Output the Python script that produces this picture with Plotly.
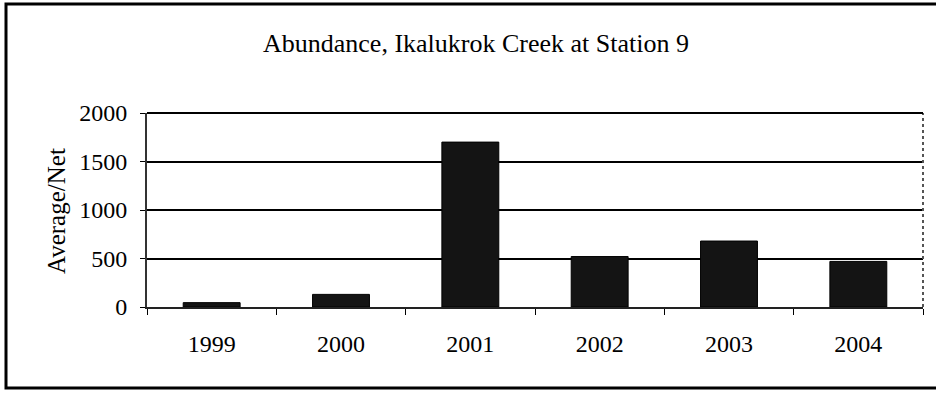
import plotly.graph_objects as go

years = ["1999", "2000", "2001", "2002", "2003", "2004"]
avg_per_net = [45, 130, 1700, 520, 680, 470]
y_ticks = [0, 500, 1000, 1500, 2000]

FONT = "Liberation Serif, Times New Roman, serif"
W, H = 936, 396
L, R, T, B = 147, 13, 113, 89
pw, ph = W - L - R, H - T - B

def px_x(px):
    return (px - L) / pw

def px_y(py):
    return (H - B - py) / ph

fig = go.Figure()
fig.add_trace(go.Bar(
    x=years, y=avg_per_net,
    marker=dict(color="#141414", line=dict(color="#000000", width=1)),
    width=0.44,
))

fig.update_layout(
    width=W, height=H,
    margin=dict(l=L, r=R, t=T, b=B, autoexpand=False),
    paper_bgcolor="white", plot_bgcolor="white",
    showlegend=False,
    font=dict(family=FONT, color="#000000", size=24),
    title=dict(
        text="Abundance, Ikalukrok Creek at Station 9",
        font=dict(family=FONT, size=26, color="#000000"),
        x=476 / W, xref="container", xanchor="center",
        y=1 - 43 / H, yref="container", yanchor="middle",
    ),
    xaxis=dict(
        type="category",
        showgrid=False,
        ticks="outside", ticklen=6, tickwidth=1, tickcolor="#000000",
        tickson="boundaries",
        showline=True, linecolor="#222222", linewidth=2,
        ticklabelstandoff=14,
        tickfont=dict(family=FONT, size=24),
        automargin=False,
    ),
    yaxis=dict(
        range=[0, 2000],
        tickvals=y_ticks,
        ticktext=[str(v) for v in y_ticks],
        showgrid=True, gridcolor="#000000", gridwidth=2,
        ticks="outside", ticklen=5, tickwidth=1, tickcolor="#000000",
        showline=True, linecolor="#333333", linewidth=2,
        zeroline=False,
        ticklabelstandoff=8,
        tickfont=dict(family=FONT, size=24),
        automargin=False,
    ),
    annotations=[dict(
        text="Average/Net", textangle=-90,
        x=px_x(56), y=px_y(211), xref="paper", yref="paper",
        xanchor="center", yanchor="middle", showarrow=False,
        font=dict(family=FONT, size=25, color="#000000"),
    )],
    shapes=[
        dict(type="line", xref="paper", yref="paper", x0=1, x1=1, y0=0, y1=1,
             line=dict(color="#555555", width=2, dash="dot")),
        dict(type="line", xref="paper", yref="paper", x0=0, x1=1, y0=1, y1=1,
             line=dict(color="#000000", width=2)),
        dict(type="rect", xref="paper", yref="paper",
             x0=px_x(6), x1=px_x(945), y0=px_y(388), y1=px_y(4),
             line=dict(color="#000000", width=3), layer="above"),
    ],
)

fig.write_html("out.html")
